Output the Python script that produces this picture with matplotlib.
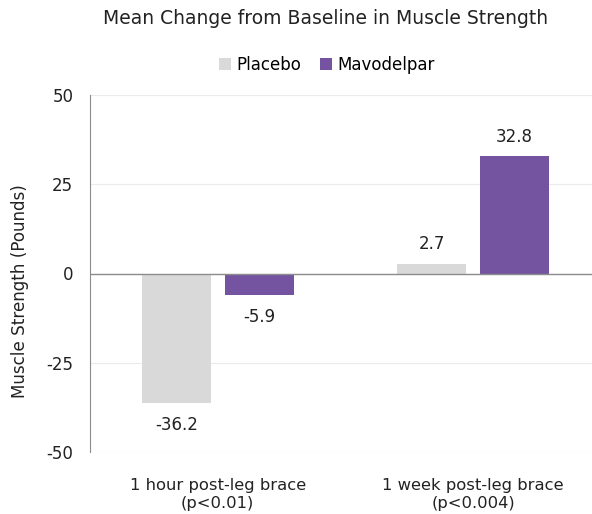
import numpy as np
import matplotlib
matplotlib.use('Agg')
import matplotlib.pyplot as plt

categories = ["1 hour post-leg brace\n(p<0.01)", "1 week post-leg brace\n(p<0.004)"]
placebo = [-36.2, 2.7]
mavodelpar = [-5.9, 32.8]
yticks = [-50, -25, 0, 25, 50]

c_placebo = "#D9D9D9"
c_mavo = "#7454A0"
txt = "#222222"

fig = plt.figure(figsize=(5.92, 5.14), dpi=100)
ax = fig.add_axes([90 / 592, 62 / 514, 1 - 90 / 592, 357 / 514])

x = np.arange(len(categories))
w = 0.27
off = 0.162
b1 = ax.bar(x - off, placebo, w, color=c_placebo, label="Placebo", zorder=3)
b2 = ax.bar(x + off, mavodelpar, w, color=c_mavo, label="Mavodelpar", zorder=3)

# value labels above / below each bar
for bars, vals in [(b1, placebo), (b2, mavodelpar)]:
    for b, v in zip(bars, vals):
        y = v + (3 if v >= 0 else -3.8)
        ax.text(b.get_x() + b.get_width() / 2, y, f"{v:.1f}",
                ha="center", va="bottom" if v >= 0 else "top", fontsize=12, color=txt)

ax.set_xlim(-0.5, 1.465)
ax.set_ylim(-50, 50)
ax.set_yticks(yticks)
ax.set_yticklabels([str(t) for t in yticks], fontsize=12)
ax.set_xticks(x)
ax.set_xticklabels(categories, fontsize=11.8, linespacing=1.25)
ax.tick_params(axis="both", length=0, colors=txt)
ax.tick_params(axis="x", pad=19)
ax.tick_params(axis="y", pad=12)
ax.grid(axis="y", color="#EBEBEB", linewidth=0.8, zorder=0)
ax.axhline(0, color="#8C8C8C", linewidth=1, zorder=4)
for s in ["top", "right", "bottom"]:
    ax.spines[s].set_visible(False)
ax.spines["left"].set_color("#8C8C8C")

fig.text(20 / 592, 1 - 291 / 514, "Muscle Strength (Pounds)", rotation=90,
         ha="center", va="center", fontsize=12.1, color=txt)
fig.text(326 / 592, 1 - 18 / 514, "Mean Change from Baseline in Muscle Strength",
         ha="center", va="center", fontsize=13.5, color=txt)
fig.legend(handles=[b1, b2], loc="center", bbox_to_anchor=(327 / 592, 1 - 65 / 514), ncol=2,
           frameon=False, fontsize=12, handlelength=0.7, handleheight=0.7,
           handletextpad=0.35, columnspacing=1.1)

plt.savefig("out.png", dpi=100)
